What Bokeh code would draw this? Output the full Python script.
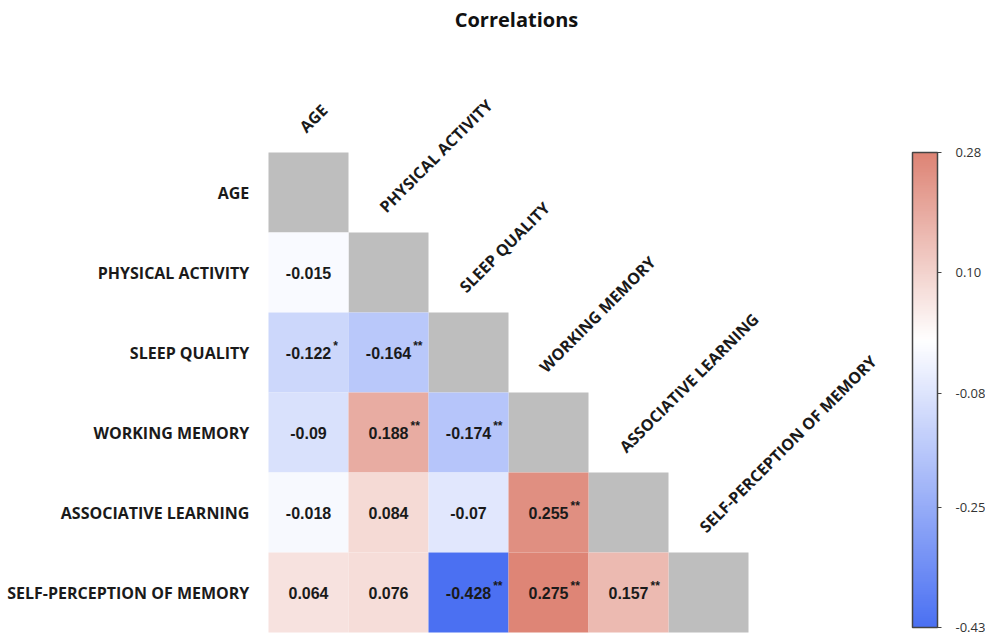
import math
from bokeh.plotting import figure
from bokeh.models import (ColumnDataSource, LinearColorMapper, ColorBar, FixedTicker, Range1d,
                          Label, PrintfTickFormatter, AllLabels)
from bokeh.core.properties import value
from bokeh.embed import file_html
from bokeh.resources import INLINE

# ---------------- data ----------------
variables = ["AGE", "PHYSICAL ACTIVITY", "SLEEP QUALITY", "WORKING MEMORY",
             "ASSOCIATIVE LEARNING", "SELF-PERCEPTION OF MEMORY"]
row_pa = [-0.015]
row_sq = [-0.122, -0.164]
row_wm = [-0.09, 0.188, -0.174]
row_al = [-0.018, 0.084, -0.07, 0.255]
row_sp = [0.064, 0.076, -0.428, 0.275, 0.157]
stars_pa = [""]
stars_sq = ["*", "**"]
stars_wm = ["", "**", "**"]
stars_al = ["", "", "", "**"]
stars_sp = ["", "", "**", "**", "**"]
cbar_ticks = [0.28, 0.10, -0.08, -0.25, -0.43]
cmin, cmax = -0.43, 0.28

# ---------------- layout ----------------
W, H = 985, 639
CELL = 80
X0, Y0 = 268, 152  # px of first cell's left / top

p = figure(width=W, height=H,
           x_range=Range1d(-X0 / CELL, (W - X0) / CELL),
           y_range=Range1d((H - Y0) / CELL, -Y0 / CELL),
           output_backend="svg", toolbar_location=None, min_border=0,
           x_axis_location=None, y_axis_location=None)
p.grid.visible = False
p.outline_line_color = None

# colour palette: white at 0, blue towards low, red towards high
neg_end = (74, 112, 242)
pos_end = (221, 131, 116)
pal = []
N = 256
for i in range(N):
    v = cmin + (i + 0.5) * (cmax - cmin) / N
    if v < 0:
        f = min(1.0, -v / abs(cmin)); end = neg_end
    else:
        f = min(1.0, v / cmax); end = pos_end
    c = tuple(int(round(255 + (e - 255) * f)) for e in end)
    pal.append("#%02x%02x%02x" % c)
mapper = LinearColorMapper(palette=pal, low=cmin, high=cmax)

rows = [row_pa, row_sq, row_wm, row_al, row_sp]
stars = [stars_pa, stars_sq, stars_wm, stars_al, stars_sp]
xs, ys, vals, labs, sts, soff = [], [], [], [], [], []
for r, (rv, rs) in enumerate(zip(rows, stars), start=1):
    for c, (v, s) in enumerate(zip(rv, rs)):
        xs.append(c + 0.5); ys.append(r + 0.5)
        vals.append(v); lab = str(v); labs.append(lab); sts.append(s)
        w = sum(5.3 if ch == "-" else 4.45 if ch == "." else 8.9 for ch in lab)
        soff.append(w / 2 + 2)
src = ColumnDataSource(dict(x=xs, y=ys, v=vals, lab=labs, st=sts, off=soff))

diag = ColumnDataSource(dict(x=[i + 0.5 for i in range(len(variables))],
                             y=[i + 0.5 for i in range(len(variables))]))
p.rect(x="x", y="y", width=1, height=1, source=diag, fill_color="#bebebe", line_color=None)
p.rect(x="x", y="y", width=1, height=1, source=src,
       fill_color={"field": "v", "transform": mapper}, line_color=None)
p.text(x="x", y="y", text="lab", source=src, text_align="center", text_baseline="middle",
       text_font=value("Liberation Sans"), text_font_style="bold", text_font_size="16px",
       text_color="#1a1a1a")
p.text(x="x", y="y", text="st", source=src, x_offset="off", y_offset=-7,
       text_align="left", text_baseline="middle",
       text_font=value("Liberation Sans"), text_font_style="bold", text_font_size="12px",
       text_color="#1a1a1a")

# row labels
rl = ColumnDataSource(dict(x=[-0.24] * len(variables), y=[i + 0.5 for i in range(len(variables))],
                           t=variables))
p.text(x="x", y="y", text="t", source=rl, text_align="right", text_baseline="middle",
       text_font=value("Open Sans"), text_font_style="bold", text_font_size="16px",
       text_color="#1a1a1a")

# column labels (rotated)
cl = ColumnDataSource(dict(x=[i + 0.52 for i in range(len(variables))],
                           y=[i - 0.19 for i in range(len(variables))], t=variables))
p.text(x="x", y="y", text="t", source=cl, angle=math.pi / 4, text_align="left",
       text_baseline="bottom", text_font=value("Open Sans"), text_font_style="bold",
       text_font_size="16px", text_color="#1a1a1a")

cb = ColorBar(color_mapper=mapper, ticker=FixedTicker(ticks=cbar_ticks),
              formatter=PrintfTickFormatter(format="%.2f"),
              major_label_policy=AllLabels(),
              width=25, height=475, location=(912, H - 627), padding=0,
              bar_line_color="#444444", bar_line_width=1.5,
              major_tick_line_color="#444444", major_tick_in=0, major_tick_out=4,
              minor_tick_line_color=None, label_standoff=14,
              major_label_text_font="Open Sans", major_label_text_font_size="13px",
              major_label_text_color="#333333",
              background_fill_color=None, border_line_color=None)
p.add_layout(cb)

title = Label(x=516, y=H - 19, x_units="screen", y_units="screen", text="Correlations",
              text_align="center", text_baseline="middle", text_font="Open Sans",
              text_font_style="bold", text_font_size="20px", text_color="#111111")
p.add_layout(title)

open("out.html", "w").write(file_html(p, INLINE))
